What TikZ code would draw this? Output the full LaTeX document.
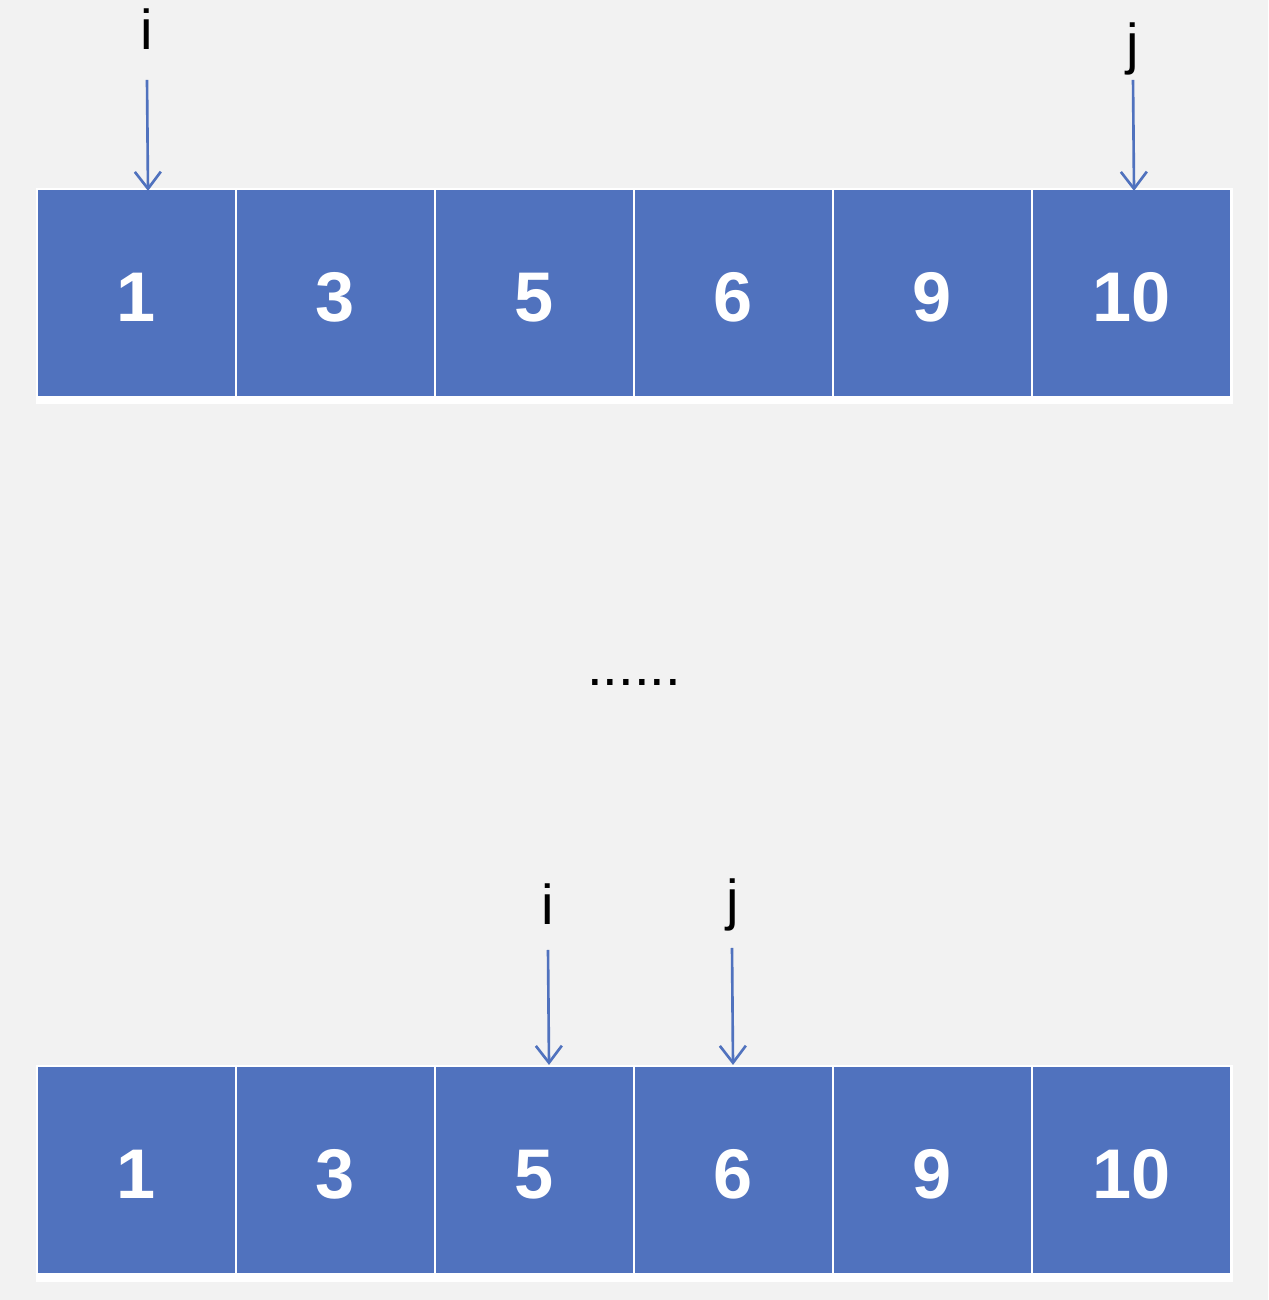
\documentclass[tikz,border=0pt]{standalone}
\usepackage{fontspec}
\setmainfont{Liberation Sans}
\usetikzlibrary{positioning,arrows.meta}
\definecolor{paper}{RGB}{242,242,242}
\definecolor{cellblue}{RGB}{80,114,190}
\tikzset{
  cell/.style ={rectangle, draw=white, line width=0.6pt, fill=cellblue,
                minimum width=1.99cm, minimum height=2.08cm, inner sep=0pt,
                text height=16.4pt, text depth=0pt,
                font=\fontsize{20}{24}\selectfont\bfseries, text=white},
  ptr/.style  ={inner sep=0pt, anchor=base, font=\fontsize{16}{19}\selectfont},
  move/.style ={-{Straight Barb[length=1.7mm,width=2.6mm]}, draw=cellblue, line width=0.75pt},
}
\begin{document}
\begin{tikzpicture}
% page
\fill[paper] (0,0) rectangle (12.68,13);
\useasboundingbox (0,0) rectangle (12.68,13);

% white frames behind the rows
\fill[white] (0.36,8.96) rectangle (12.33,11.12);
\fill[white] (0.36,0.18) rectangle (12.33,2.35);

% rows
\foreach \v [count=\k] in {1,3,5,6,9,10} {
  \node[cell] (a\k) at ({0.375+1.99*\k-1.0},10.07) {\v};
  \node[cell] (b\k) at ({0.375+1.99*\k-1.0},1.30) {\v};
}

% pointers, first step
\node[ptr] (i1) at (1.47,12.50) {i};
\node[ptr] (j1) at (11.33,12.36) {j};
\coordinate (i1t) at (1.47,12.20);
\coordinate (j1t) at (11.33,12.20);
\draw[move] (i1t) -- ([xshift=0.1mm,yshift=-0.3mm]i1t |- a1.north);
\draw[move] (j1t) -- ([xshift=0.1mm,yshift=-0.3mm]j1t |- a6.north);

% gap
\node[ptr] (gap) at (6.34,6.14) {......};

% pointers, later step
\node[ptr] (i2) at (5.48,3.75) {i};
\node[ptr] (j2) at (7.33,3.80) {j};
\coordinate (i2t) at (5.48,3.50);
\coordinate (j2t) at (7.32,3.52);
\draw[move] (i2t) -- ([xshift=0.1mm]i2t |- b3.north);
\draw[move] (j2t) -- ([xshift=0.1mm]j2t |- b4.north);
\end{tikzpicture}
\end{document}
